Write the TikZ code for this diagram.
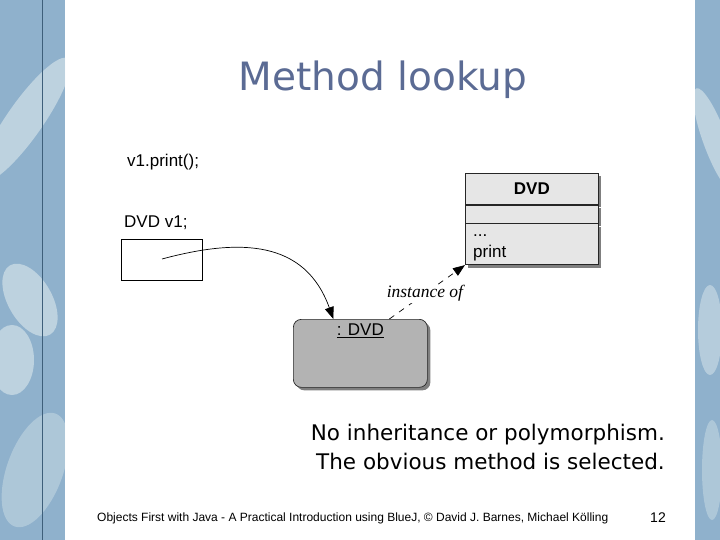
\documentclass[tikz,border=0pt]{standalone}
\usepackage{fontspec}
\setmainfont{Liberation Sans}
\newfontfamily\slidefont{DejaVu Sans}
\newfontfamily\noteserif{Liberation Serif}
\usetikzlibrary{arrows.meta, positioning, shadows}
\definecolor{TitleBlue} {HTML}{5B6B94}
\definecolor{StripBlue} {HTML}{8FB1CC}
\definecolor{StripPale} {HTML}{DCE8EC}
\definecolor{StripDark} {HTML}{3E5F7A}
\definecolor{ClassGrey} {HTML}{E6E6E6}
\definecolor{ObjGrey}   {HTML}{B3B3B3}

\begin{document}
\begin{tikzpicture}[x=1pt, y=-1pt,
  code/.style={font=\fontsize{17}{20}\selectfont, anchor=base west, inner sep=0pt},
  umlshadow/.style={drop shadow={shadow xshift=3pt, shadow yshift=-3pt, fill=black, opacity=.5}},
  cpart/.style={draw=black!85, fill=ClassGrey, line width=0.7pt, minimum width=133pt,
                inner sep=0pt, umlshadow, font=\fontsize{17}{20}\selectfont},
  link/.style={-{Triangle[length=12pt, width=9pt]}, line width=0.7pt},
  blob/.style={fill=StripPale, opacity=.6},
  bigtext/.style={font=\slidefont\fontsize{21.5}{29}\selectfont, align=right, inner sep=0pt}]
  \useasboundingbox (0,0) rectangle (720,540);
  % side strips (foliage print)
  \fill[StripBlue] (0,0) rectangle (65,540);
  \fill[StripBlue] (695,0) rectangle (720,540);
  \begin{scope}
    \clip (0,0) rectangle (65,540) (695,0) rectangle (720,540);
    \fill[blob, rotate around={-35:(25,120)}] (25,120) ellipse (18 and 75);
    \fill[blob, rotate around={30:(30,300)}] (30,300) ellipse (22 and 40);
    \fill[blob] (12,360) ellipse (22 and 35);
    \fill[blob, opacity=.4, rotate around={-20:(35,470)}] (35,470) ellipse (28 and 60);
    \fill[blob, rotate around={20:(715,140)}] (715,140) ellipse (12 and 55);
    \fill[blob, opacity=.5] (710,330) ellipse (12 and 45);
    \fill[blob, opacity=.4] (712,470) ellipse (10 and 50);
    \draw[StripDark, line width=0.6pt] (42,0) -- (42,540);
  \end{scope}
  % title
  \node[font=\slidefont\fontsize{39}{44}\selectfont, text=TitleBlue, anchor=base] (title) at (383,91) {Method lookup};
  % variable
  \node[code] (call) at (127,167) {v1.print();};
  \node[code] (decl) at (124,227) {DVD v1;};
  \node[draw, line width=0.7pt, minimum width=81pt, minimum height=41pt, anchor=north west] (vbox) at (121,239) {};
  \coordinate (vref) at (162,259);
  % object
  \node[draw=black!85, fill=ObjGrey, rounded corners=8pt, line width=0.7pt, umlshadow,
        minimum width=134pt, minimum height=68pt, anchor=north west] (obj) at (293,319) {};
  \node[font=\fontsize{17}{20}\selectfont, anchor=north, inner sep=0pt] (objname) at ([yshift=-5pt]obj.north) {\underline{: DVD}};
  % class
  \node[cpart, minimum height=31pt, anchor=north west, font=\fontsize{17}{20}\selectfont\bfseries] (cname) at (465,173) {DVD};
  \node[cpart, minimum height=18pt, below=0pt of cname] (cfields) {};
  \node[cpart, minimum height=41pt, below=0pt of cfields] (cmethods) {};
  \node[code] (mdots) at ([xshift=8pt, yshift=-13pt]cmethods.north west) {...};
  \node[code] (mprint) at ([xshift=8pt, yshift=-34pt]cmethods.north west) {print};
  % connectors
  \draw[link] (vref) .. controls (240,238) and (305,240) .. ([xshift=-27pt]obj.north);
  \draw[link, dashed, dash pattern=on 6pt off 6pt] ([xshift=29pt]obj.north) -- (cmethods.south west)
    node[pos=.47, fill=white, inner sep=1pt, font=\noteserif\itshape\fontsize{17.5}{20}\selectfont] (inst) {instance of};
  % remarks
  \node[bigtext, anchor=north east] (remark) at (665,424) {No inheritance or polymorphism.\\The obvious method is selected.};
  \node[font=\fontsize{12}{14}\selectfont, anchor=base west, inner sep=0pt] (foot) at (97,521)
    {Objects First with Java - A Practical Introduction using BlueJ, \textcopyright{} David J. Barnes, Michael Kölling};
  \node[font=\fontsize{14}{16}\selectfont, anchor=base east, inner sep=0pt] (page) at (666,522) {12};
\end{tikzpicture}
\end{document}
